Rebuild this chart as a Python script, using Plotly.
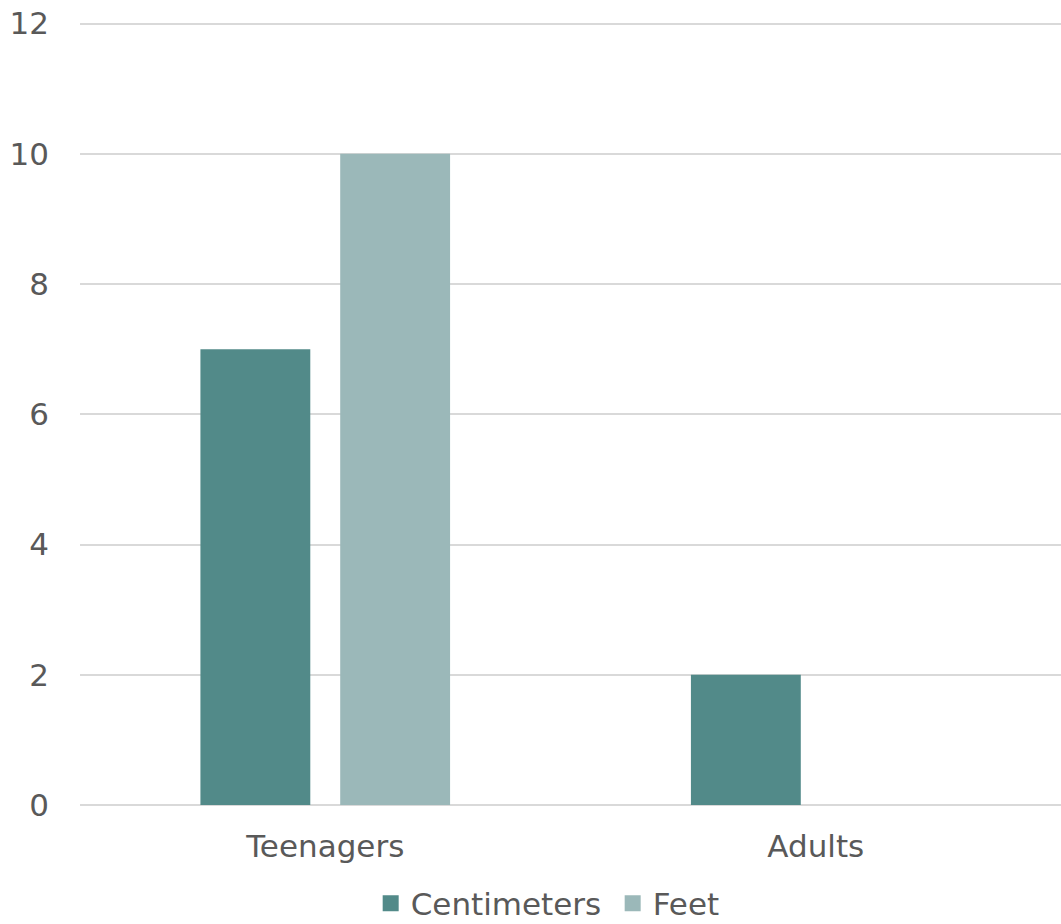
import plotly.graph_objects as go

categories = ["Teenagers", "Adults"]
centimeters = [7, 2]
feet = [10, 0]
y_ticks = [0, 2, 4, 6, 8, 10, 12]
series_names = ["Centimeters", "Feet"]
series_colors = ["#528a89", "#9bb8b9"]

font_family = "'DejaVu Sans', sans-serif"
text_color = "#595959"
fs = 31

fig = go.Figure()
for name, vals, col in zip(series_names, [centimeters, feet], series_colors):
    fig.add_trace(go.Bar(name=name, x=categories, y=vals, showlegend=False,
                         marker=dict(color=col, line=dict(width=0))))
# legend entries with larger square swatches
for name, col in zip(series_names, series_colors):
    fig.add_trace(go.Scatter(name=name, x=[None], y=[None], mode="markers",
                             marker=dict(symbol="square", size=17, color=col),
                             showlegend=True))

fig.update_layout(
    width=1061, height=924,
    margin=dict(l=80, r=0, t=16.5, b=119, autoexpand=False),
    paper_bgcolor="white", plot_bgcolor="white",
    barmode="group", bargap=0.43, bargroupgap=0.214,
    font=dict(family=font_family, size=fs, color=text_color),
    showlegend=True,
    legend=dict(orientation="h", x=0.543, xanchor="center", y=-0.091, yanchor="top",
                font=dict(size=fs, color=text_color), itemwidth=30,
                entrywidth=197, entrywidthmode="pixels",
                bgcolor="rgba(0,0,0,0)", traceorder="normal"),
    xaxis=dict(showgrid=False, showline=False, ticks="", tickfont=dict(size=fs),
               ticklabelstandoff=20, automargin=False),
    yaxis=dict(range=[0, 12.1], tickvals=y_ticks, showgrid=True, gridcolor="#d9d9d9",
               gridwidth=2, zeroline=True, zerolinecolor="#d9d9d9", zerolinewidth=2,
               showline=False, ticks="", tickfont=dict(size=fs), ticklabelstandoff=30,
               ticklabeloverflow="allow", automargin=False),
)

fig.write_html("out.html", config={"displayModeBar": False},
               post_script="document.body.style.margin='0px';document.body.style.overflow='hidden';")
